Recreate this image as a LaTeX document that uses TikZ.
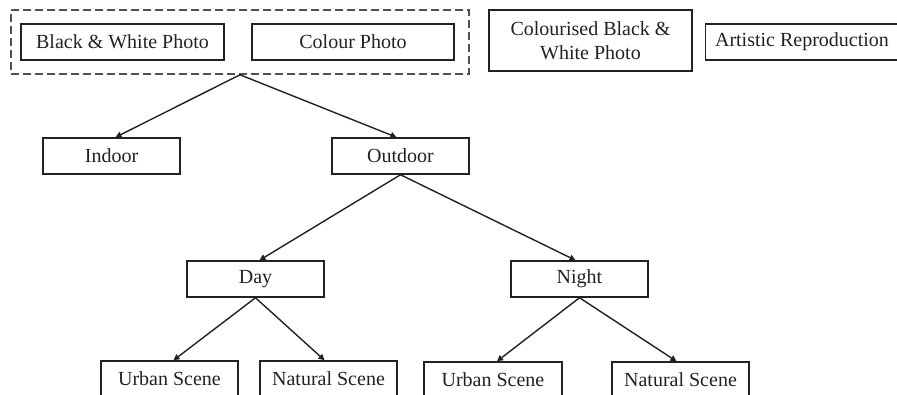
\documentclass[tikz,border=0pt]{standalone}
\usepackage{fontspec}
\setmainfont{Liberation Serif}
\usetikzlibrary{arrows.meta}
\definecolor{ink}{HTML}{222222}
\definecolor{dashgray}{HTML}{505050}
\tikzset{
  box/.style={draw=ink, line width=1.5pt, rectangle, inner sep=0pt, text=ink,
    font=\fontsize{20}{24}\selectfont, minimum height=36pt},
  grp/.style={draw=dashgray, line width=1.6pt, dash pattern=on 8pt off 4pt, rectangle, inner sep=0pt},
  link/.style={draw=ink, line width=1.4pt, -{Triangle[length=6pt,width=6pt]}}
}
\begin{document}
\begin{tikzpicture}[x=1pt,y=-1pt]
\useasboundingbox (0,0) rectangle (897,394);
\clip (0,0) rectangle (897,394);
\fill[white] (0,0) rectangle (897,394);
% top group
\node[grp, minimum width=458pt, minimum height=64pt] (group) at (240,42) {};
\node[box, minimum width=203pt] (bw) at (122.5,42) {Black \& White Photo};
\node[box, minimum width=202pt] (colour) at (353,42) {Colour Photo};
\node[box, minimum width=203pt, minimum height=61pt, align=center] (colourised) at (590.5,40.5) {Colourised Black \&\\White Photo};
\node[box, minimum width=193pt] (artistic) at (802,42) {Artistic Reproduction};
% level 2
\node[box, minimum width=137pt] (indoor) at (111.5,156) {Indoor};
\node[box, minimum width=137pt] (outdoor) at (400.5,156) {Outdoor};
% level 3
\node[box, minimum width=137pt] (day) at (255.5,279) {Day};
\node[box, minimum width=137pt] (night) at (579.5,279) {Night};
% level 4
\node[box, minimum width=137pt] (urban1) at (169.5,379) {Urban Scene};
\node[box, minimum width=137pt] (natural1) at (328.5,379) {Natural Scene};
\node[box, minimum width=138pt] (urban2) at (493,380) {Urban Scene};
\node[box, minimum width=137pt] (natural2) at (680.5,380) {Natural Scene};
% connectors
\draw[link] (group.south) -- ([xshift=4pt]indoor.north);
\draw[link] (group.south) -- ([xshift=-4pt]outdoor.north);
\draw[link] (outdoor.south) -- ([xshift=4pt]day.north);
\draw[link] (outdoor.south) -- ([xshift=-4pt]night.north);
\draw[link] (day.south) -- ([xshift=4pt]urban1.north);
\draw[link] (day.south) -- ([xshift=-4pt]natural1.north);
\draw[link] (night.south) -- ([xshift=4pt]urban2.north);
\draw[link] (night.south) -- ([xshift=-4pt]natural2.north);
\end{tikzpicture}
\end{document}
